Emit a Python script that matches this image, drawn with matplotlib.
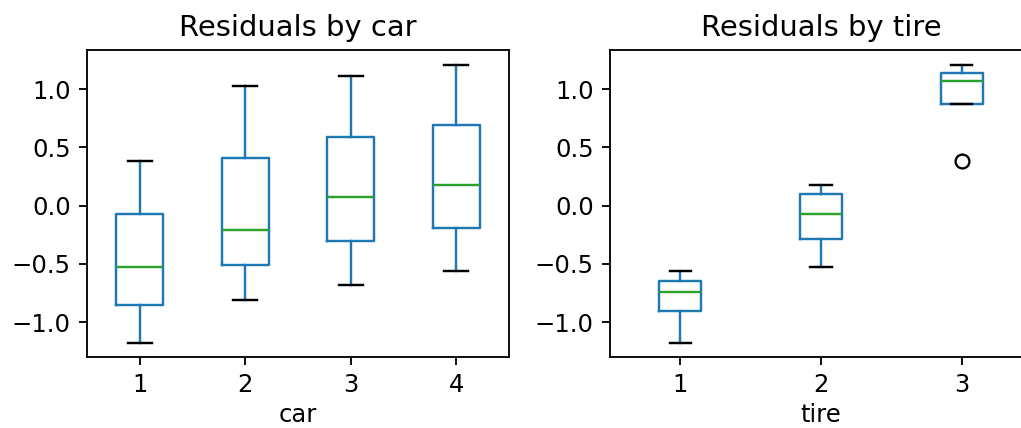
import matplotlib
matplotlib.use("Agg")
import matplotlib.pyplot as plt

# Residuen je Auto (Reihenfolge: Reifen 1, 2, 3)
cars = ["1", "2", "3", "4"]
tires = ["1", "2", "3"]
resid_car1 = [-1.18, -0.53, 0.38]
resid_car2 = [-0.81, -0.21, 1.03]
resid_car3 = [-0.68, 0.07, 1.11]
resid_car4 = [-0.56, 0.18, 1.21]

by_car = [resid_car1, resid_car2, resid_car3, resid_car4]
# nach Reifen umgruppieren
by_tire = [[r[i] for r in by_car] for i in range(len(tires))]

plt.rcParams["font.size"] = 10.5
plt.rcParams["axes.titlesize"] = 12.6

dpi = 166
fig = plt.figure(figsize=(1021 / dpi, 428 / dpi), dpi=dpi)
W, H = 1021, 428
ax1 = fig.add_axes([87 / W, 1 - 357 / H, 422 / W, 307 / H])
ax2 = fig.add_axes([610 / W, 1 - 357 / H, 422 / W, 307 / H])

style = dict(
    boxprops=dict(color="C0", linewidth=1.05),
    whiskerprops=dict(color="C0", linewidth=1.05),
    medianprops=dict(color="C2", linewidth=1.05),
    capprops=dict(color="k", linewidth=1.05),
)

ax1.boxplot(by_car, tick_labels=cars, **style)
ax1.set_title("Residuals by car")
ax1.set_xlabel("car", labelpad=2.5)

ax2.boxplot(by_tire, tick_labels=tires, **style)
ax2.set_title("Residuals by tire")
ax2.set_xlabel("tire", labelpad=2.5)

for ax in (ax1, ax2):
    ax.set_ylim(-1.3, 1.335)
    ax.set_yticks([-1.0, -0.5, 0.0, 0.5, 1.0])

fig.savefig("out.png", dpi=dpi)
